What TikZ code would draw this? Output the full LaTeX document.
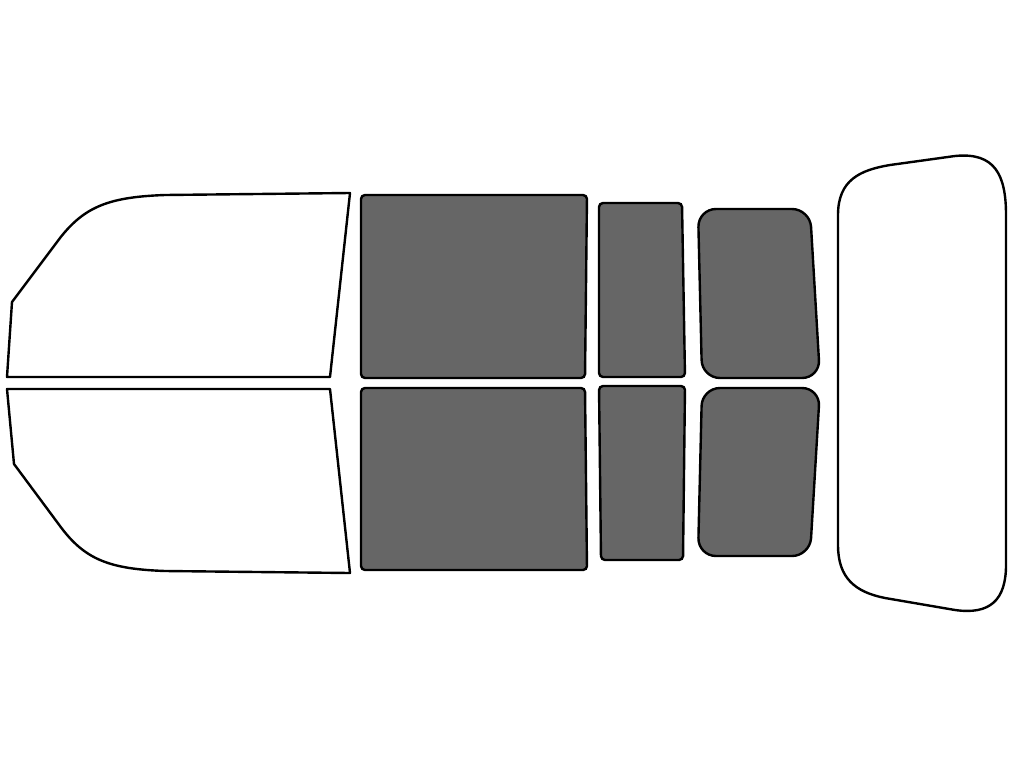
\documentclass[tikz,border=0pt]{standalone}
\begin{document}
\begin{tikzpicture}[x=1pt,y=-1pt,
  win/.style={draw=black,line width=2.4pt,fill=white,line join=round},
  tint/.style={draw=black,line width=2.4pt,fill=black!60,rounded corners=4pt}]
\useasboundingbox[fill=white] (0,0) rectangle (1024,768);
% front windows
\draw[win] (350,193) -- (330,377) -- (7,377) -- (12,302) -- (60,238) .. controls (85,206) and (110,197) .. (165,195) -- cycle;
\draw[win] (350,573) -- (330,389) -- (7,389) -- (14,464) -- (60,526) .. controls (85,560) and (110,569) .. (165,571) -- cycle;
% tinted
\draw[tint] (361,195) -- (587,195) -- (585,378) -- (361,378) -- cycle;
\draw[tint] (361,388) -- (585,388) -- (587,570) -- (361,570) -- cycle;
\draw[tint] (599,203) -- (682,203) -- (685,377) -- (599,377) -- cycle;
\draw[tint] (599,386) -- (685,386) -- (683,560) -- (601,560) -- cycle;
\draw[tint,rounded corners=18pt] (698,209) -- (810,209) -- (820,378) -- (702,378) -- cycle;
\draw[tint,rounded corners=18pt] (702,388) -- (820,388) -- (810,556) -- (698,556) -- cycle;
% rear window
\draw[win] (838,215) .. controls (838,180) and (860,170) .. (890,165) -- (955,156)
  .. controls (995,152) and (1006,175) .. (1006,215) -- (1006,565)
  .. controls (1006,600) and (990,615) .. (955,610) -- (885,598)
  .. controls (855,592) and (838,578) .. (838,545) -- cycle;
\end{tikzpicture}
\end{document}
